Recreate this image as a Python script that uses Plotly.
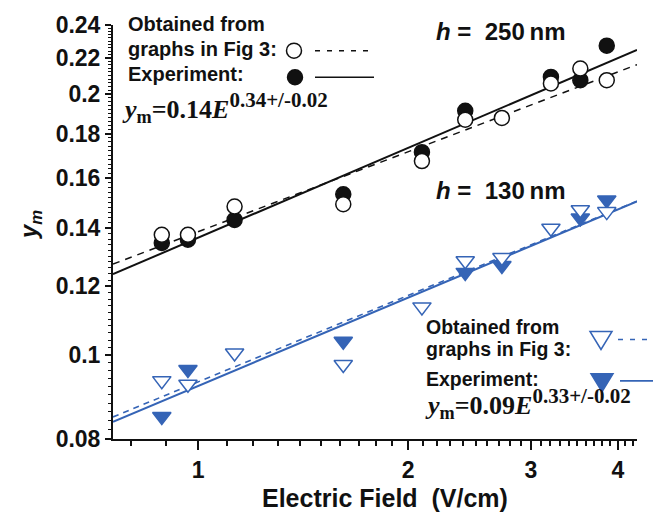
import numpy as np
import plotly.graph_objects as go

# ---------------- data ----------------
E_250_fig3 = [0.887, 0.967, 1.128, 1.615, 2.094, 2.416, 2.727, 3.206, 3.533, 3.855]
ym_250_fig3 = [0.1376, 0.1376, 0.1483, 0.1492, 0.1673, 0.1867, 0.1876, 0.2056, 0.2139, 0.2074]
E_250_exp = [0.887, 0.967, 1.128, 1.615, 2.094, 2.416, 3.206, 3.533, 3.855]
ym_250_exp = [0.1346, 0.1358, 0.1431, 0.1532, 0.1713, 0.1912, 0.2092, 0.2074, 0.2273]

E_130_fig3 = [0.887, 0.967, 1.128, 1.615, 2.094, 2.416, 2.727, 3.206, 3.533, 3.855]
ym_130_fig3 = [0.0934, 0.0925, 0.1005, 0.0975, 0.1136, 0.1284, 0.1295, 0.1400, 0.1470, 0.1463]
E_130_exp = [0.887, 0.967, 1.615, 2.416, 2.727, 3.533, 3.855]
ym_130_exp = [0.0849, 0.0962, 0.1037, 0.1245, 0.1268, 0.1438, 0.1509]

# power-law fits  y = A * E^n  (prefactor, exponent)
fit_250_exp = (0.1365, 0.344)
fit_250_fig3 = (0.1387, 0.306)
fit_130_exp = (0.0921, 0.338)
fit_130_fig3 = (0.0931, 0.331)

x_ticks = [1, 2, 3, 4]
x_ticklabels = ["1", "2", "3", "4"]
y_ticks = [0.08, 0.1, 0.12, 0.14, 0.16, 0.18, 0.2, 0.22, 0.24]
y_ticklabels = ["0.08", "0.1", "0.12", "0.14", "0.16", "0.18", "0.2", "0.22", "0.24"]

X_MIN, X_MAX = 0.755, 4.26
Y_MIN, Y_MAX = 0.08, 0.2401

BLACK = "#111111"
BLUE = "#3564b6"

# ---------------- layout helpers ----------------
W, H = 653, 517
ML, MR, MT, MB = 113, 16, 19, 78
PW, PH = W - ML - MR, H - MT - MB


def px(x):
    return (x - ML) / PW


def py(y):
    return (H - MB - y) / PH


fig = go.Figure()

E_line = np.geomspace(X_MIN, X_MAX, 80)


def fit_curve(fit):
    return fit[0] * E_line ** fit[1]


# fit lines
fig.add_trace(go.Scatter(x=E_line, y=fit_curve(fit_250_fig3), mode="lines",
                         line=dict(color=BLACK, width=1.5, dash="7px,6px"), showlegend=False))
fig.add_trace(go.Scatter(x=E_line, y=fit_curve(fit_250_exp), mode="lines",
                         line=dict(color=BLACK, width=2), showlegend=False))
fig.add_trace(go.Scatter(x=E_line, y=fit_curve(fit_130_fig3), mode="lines",
                         line=dict(color=BLUE, width=1.6, dash="6px,5px"), showlegend=False))
fig.add_trace(go.Scatter(x=E_line, y=fit_curve(fit_130_exp), mode="lines",
                         line=dict(color=BLUE, width=2), showlegend=False))

# markers
fig.add_trace(go.Scatter(x=E_250_exp, y=ym_250_exp, mode="markers",
                         marker=dict(symbol="circle", size=15, color=BLACK,
                                     line=dict(color=BLACK, width=1.5)), showlegend=False))
fig.add_trace(go.Scatter(x=E_250_fig3, y=ym_250_fig3, mode="markers",
                         marker=dict(symbol="circle", size=15, color="white",
                                     line=dict(color=BLACK, width=1.5)), showlegend=False))
fig.add_trace(go.Scatter(x=E_130_exp, y=ym_130_exp, mode="markers",
                         marker=dict(symbol="triangle-down", size=16, color=BLUE,
                                     line=dict(color=BLUE, width=1.5)), showlegend=False))
fig.add_trace(go.Scatter(x=E_130_fig3, y=ym_130_fig3, mode="markers",
                         marker=dict(symbol="triangle-down", size=16, color="white",
                                     line=dict(color=BLUE, width=1.5)), showlegend=False))

SANS = "Arial, Liberation Sans, Helvetica, sans-serif"
SERIF = "Times New Roman, Liberation Serif, serif"

annotations = []


def txt(text, x, y, size, family=SANS, color=BLACK, xanchor="left", angle=0):
    annotations.append(dict(text=text, x=px(x), y=py(y), xref="paper", yref="paper",
                            xanchor=xanchor, yanchor="middle", showarrow=False,
                            textangle=angle, font=dict(family=family, size=size, color=color)))


SUP = '<sup><span style="font-size:21px">%s</span></sup>'

# top-left legend
txt("<b>Obtained from</b>", 126, 18, 20)
txt("<b>graphs in Fig 3:</b>", 126, 43, 20)
txt("<b>Experiment:</b>", 126, 69, 20)
txt("<b><i>y</i><sub>m</sub>=0.14<i>E</i>" + SUP % "0.34+/-0.02" + "</b>", 120, 103, 26, family=SERIF)
txt("<b><i>h</i> =\u00a0 250\u2009nm</b>", 434, 26, 24)
txt("<b><i>h</i> =\u00a0 130\u2009nm</b>", 434, 187, 24)

# bottom-right legend
txt("<b>Obtained from</b>", 424, 325, 19.5)
txt("<b>graphs in Fig 3:</b>", 424, 348, 19.5)
txt("<b>Experiment:</b>", 424, 378, 19.5)
txt("<b><i>y</i><sub>m</sub>=0.09<i>E</i>" + SUP % "0.33+/-0.02" + "</b>", 423, 403, 26, family=SERIF)

# axis titles
txt("<b>Electric Field\u00a0 (V/cm)</b>", 385, 499, 25, xanchor="center")
txt("<b><i>y<sub>m</sub></i></b>", 30, 222, 24, xanchor="center", angle=-90)

shapes = []


def circle(cx, cy, filled):
    shapes.append(dict(type="circle", xref="paper", yref="paper", xsizemode="pixel", ysizemode="pixel",
                       xanchor=px(cx), yanchor=py(cy), x0=-7.5, x1=7.5, y0=-7.5, y1=7.5,
                       line=dict(color=BLACK, width=1.5), fillcolor=BLACK if filled else "white"))


def hline(x0, x1, y, color, dash, width):
    shapes.append(dict(type="line", xref="paper", yref="paper", x0=px(x0), x1=px(x1), y0=py(y), y1=py(y),
                       line=dict(color=color, width=width, dash=dash)))


def tri(cx, cy, filled):
    shapes.append(dict(type="path", xref="paper", yref="paper", xsizemode="pixel", ysizemode="pixel",
                       xanchor=px(cx), yanchor=py(cy), path="M-11,7 L11,7 L0,-11 Z",
                       line=dict(color=BLUE, width=1.5), fillcolor=BLUE if filled else "white"))


circle(294, 45, False)
hline(315, 370, 45, BLACK, "5px,7px", 1.5)
circle(295, 72, True)
hline(315, 374, 72, BLACK, "solid", 1.5)

tri(601, 337, False)
hline(618, 653, 338, BLUE, "5px,7px", 1.6)
tri(602, 380, True)
hline(620, 653, 380, BLUE, "solid", 1.6)

x_minor = [v for v in np.round(np.arange(0.8, 4.25, 0.1), 2) if v not in x_ticks]
y_minor = [v for v in np.round(np.arange(0.08, 0.2401, 0.002), 3) if v not in y_ticks]

fig.update_layout(
    width=W, height=H,
    margin=dict(l=ML, r=MR, t=MT, b=MB),
    paper_bgcolor="white", plot_bgcolor="white",
    annotations=annotations, shapes=shapes,
    showlegend=False,
    xaxis=dict(type="log", range=[np.log10(X_MIN), np.log10(X_MAX)],
               showline=True, linecolor=BLACK, linewidth=2, showgrid=False, zeroline=False,
               tickmode="array", tickvals=x_ticks, ticktext=["<b>%s</b>" % t for t in x_ticklabels],
               ticks="outside", ticklen=9, tickwidth=2, tickcolor=BLACK,
               tickfont=dict(family=SANS, size=23, color=BLACK),
               minor=dict(tickmode="array", tickvals=x_minor, ticks="outside", ticklen=5,
                          tickwidth=1.5, tickcolor=BLACK, showgrid=False)),
    yaxis=dict(type="log", range=[np.log10(Y_MIN), np.log10(Y_MAX)],
               showline=True, linecolor=BLACK, linewidth=2, showgrid=False, zeroline=False,
               tickmode="array", tickvals=y_ticks, ticktext=["<b>%s</b>" % t for t in y_ticklabels],
               ticks="outside", ticklen=6, tickwidth=2, tickcolor=BLACK,
               tickfont=dict(family=SANS, size=23, color=BLACK),
               minor=dict(tickmode="array", tickvals=y_minor, ticks="outside", ticklen=3,
                          tickwidth=1.2, tickcolor=BLACK, showgrid=False)),
)

fig.write_html("out.html")
